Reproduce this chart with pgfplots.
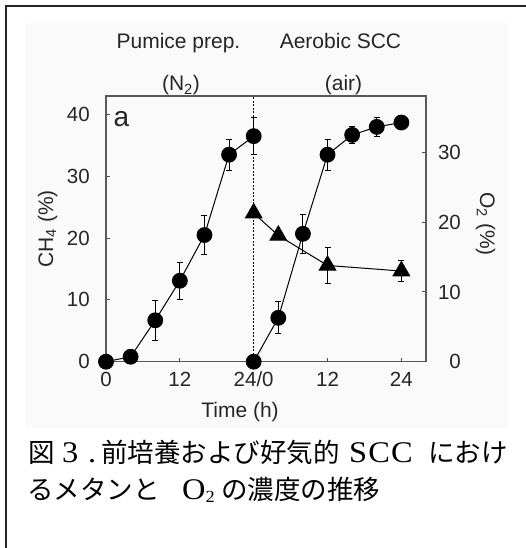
\documentclass[border=0pt]{standalone}
\usepackage{pgfplots}
\pgfplotsset{compat=1.18}
\usepackage{fontspec}
\setmainfont{Liberation Sans}
\newfontfamily\jp{Noto Sans CJK JP}
\newfontfamily\tnr[FakeStretch=1.08]{Liberation Serif}
\newcommand{\cf}{\fontsize{21}{21}\selectfont}
\newcommand{\tf}{\fontsize{20.5}{20.5}\selectfont}
\newcommand{\jpf}{\jp\fontsize{26.5}{26.5}\selectfont}
\newcommand{\tnf}{\tnr\fontsize{30}{30}\selectfont}
\begin{document}
\begin{tikzpicture}
\path[use as bounding box] (0pt,0pt) rectangle (525pt,548pt);
\fill[white] (0pt,0pt) rectangle (525pt,548pt);
\fill[black!2] (25pt,120pt) rectangle (508pt,525pt);
\draw[line width=2pt, black!85] (6pt,0pt) -- (6pt,542pt) -- (527pt,542pt);
\begin{axis}[
  at={(106pt,186.3pt)}, anchor=south west,
  scale only axis, width=320pt, height=265.7pt,
  xmin=0, xmax=52, ymin=0, ymax=43,
  xtick={0,12,24,36,48}, xticklabels={0,12,24/0,12,24},
  ytick={0,10,20,30,40},
  xtick pos=bottom, ytick pos=left, tick align=inside,
  major tick length=4pt,
  tick style={line width=1pt, black!70},
  axis line style={line width=1.4pt, black!65},
  /pgf/number format/assume math mode=true,
  tick label style={font=\tf, text=black!85, inner sep=0pt},
  yticklabel style={anchor=east, xshift=-16pt},
  xticklabel style={anchor=north, yshift=-10pt},
  clip=false,
]
\addplot[black, line width=0.7pt, dash pattern=on 2pt off 1.5pt] coordinates {(24,0) (24,43)};
\addplot[black, line width=1pt, mark=*, mark size=7.4pt,
  error bars/.cd, y dir=both, y explicit,
  error bar style={line width=0.9pt, black},
  error mark options={rotate=90, mark size=3pt, line width=0.9pt, black}]
  table[x=x, y=y, y error=e] {
x y e
0 0 0
4 0.8 0
8 6.7 3.2
12 13.1 3.0
16 20.5 3.1
20 33.5 2.5
24 36.5 3.0
};
\addplot[black, line width=1pt, mark=*, mark size=7.4pt,
  error bars/.cd, y dir=both, y explicit,
  error bar style={line width=0.9pt, black},
  error mark options={rotate=90, mark size=3pt, line width=0.9pt, black}]
  table[x=x, y=y, y error=e] {
x y e
24 0 0
28 7.1 2.6
32 20.7 3.2
36 33.5 2.5
40 36.7 1.4
44 38.0 1.6
48 38.7 0.5
};
\node[font=\fontsize{28}{28}\selectfont, text=black!85, inner sep=0pt] at (axis cs:2.5,39.3) {a};
\end{axis}
\begin{axis}[
  at={(106pt,186.3pt)}, anchor=south west,
  scale only axis, width=320pt, height=265.7pt,
  xmin=0, xmax=52, ymin=0, ymax=38.1,
  axis x line=none, axis y line*=right,
  ytick={0,10,20,30}, tick align=inside,
  major tick length=4pt,
  tick style={line width=1pt, black!70},
  axis line style={line width=1.4pt, black!65},
  /pgf/number format/assume math mode=true,
  tick label style={font=\tf, text=black!85, inner sep=0pt},
  yticklabel style={anchor=east, xshift=35pt},
  clip=false,
]
\addplot[black, line width=1pt, mark=triangle*, mark size=9.5pt,
  error bars/.cd, y dir=both, y explicit,
  error bar style={line width=0.9pt, black},
  error mark options={rotate=90, mark size=3pt, line width=0.9pt, black}]
  table[x=x, y=y, y error=e] {
x y e
24 21.3 0
28 18.1 0
36 13.8 2.6
48 13.0 1.5
};
\end{axis}
% chart titles and labels
\node[anchor=base, inner sep=0pt, font=\cf, text=black!85] at (178.5pt,499.5pt) {Pumice prep.};
\node[anchor=base, inner sep=0pt, font=\cf, text=black!85] at (181pt,457pt) {(N\textsubscript{2})};
\node[anchor=base, inner sep=0pt, font=\cf, text=black!85] at (340.5pt,499.5pt) {Aerobic SCC};
\node[anchor=base, inner sep=0pt, font=\cf, text=black!85] at (343.5pt,457pt) {(air)};
\node[anchor=base, inner sep=0pt, font=\cf, text=black!85] at (240pt,130.5pt) {Time (h)};
\node[anchor=base, inner sep=0pt, font=\cf, text=black!85, rotate=90] at (53pt,319pt) {CH\textsubscript{4} (\%)};
\node[anchor=base, inner sep=0pt, font=\cf, text=black!85, rotate=-90] at (480pt,324pt) {O\textsubscript{2} (\%)};
% caption
\node[anchor=base west, inner sep=0pt] at (28pt,85pt) {\jpf 図};
\node[anchor=base west, inner sep=0pt] at (62pt,85pt) {\tnf 3};
\node[anchor=base west, inner sep=0pt] at (88pt,85pt) {\tnf .};
\node[anchor=base west, inner sep=0pt] at (101pt,85pt) {\jpf 前培養および好気的};
\node[anchor=base west, inner sep=0pt] at (349pt,85pt) {\tnr\fontsize{30}{30}\selectfont\addfontfeature{LetterSpace=4} SCC};
\node[anchor=base west, inner sep=0pt] at (428pt,85pt) {\jpf におけ};
\node[anchor=base west, inner sep=0pt] at (27pt,48pt) {\jpf るメタンと};
\node[anchor=base west, inner sep=0pt] at (182pt,48pt) {\tnf O\raisebox{-3pt}{\fontsize{17}{17}\selectfont 2}};
\node[anchor=base west, inner sep=0pt] at (221pt,48pt) {\jpf の濃度の推移};
\end{tikzpicture}
\end{document}
